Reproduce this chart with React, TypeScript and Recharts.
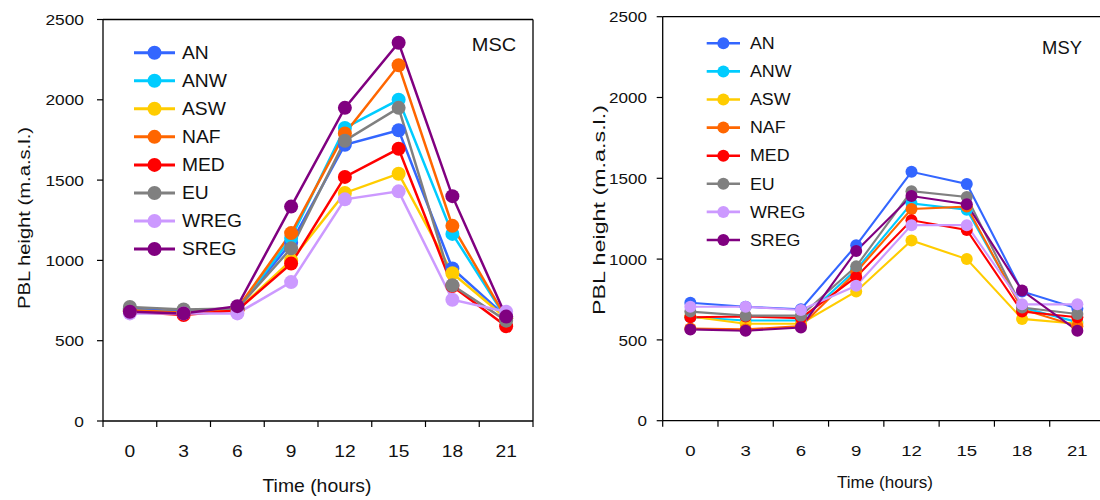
import { Legend, Line, LineChart, ReferenceLine, XAxis, YAxis } from 'recharts'

const hours = [0, 3, 6, 9, 12, 15, 18, 21]
const regions = ['AN', 'ANW', 'ASW', 'NAF', 'MED', 'EU', 'WREG', 'SREG']
const colors = ['#3366ff', '#00ccff', '#ffcc00', '#ff6600', '#ff0000', '#808080', '#cc99ff', '#800080']
const yTicks = [0, 500, 1000, 1500, 2000, 2500]

// MSC panel (m a.s.l.)
const mscAN = [700, 680, 700, 1110, 1720, 1810, 950, 650]
const mscANW = [690, 675, 695, 1140, 1825, 2000, 1165, 640]
const mscASW = [680, 670, 690, 1000, 1420, 1540, 920, 640]
const mscNAF = [690, 675, 700, 1170, 1790, 2215, 1215, 640]
const mscMED = [680, 660, 690, 980, 1520, 1695, 840, 590]
const mscEU = [710, 695, 700, 1075, 1745, 1950, 845, 625]
const mscWREG = [670, 670, 670, 865, 1380, 1430, 755, 680]
const mscSREG = [680, 670, 715, 1335, 1950, 2355, 1400, 650]

// MSY panel
const msyAN = [730, 705, 690, 1085, 1540, 1465, 800, 695]
const msyANW = [640, 620, 620, 935, 1345, 1305, 700, 610]
const msyASW = [645, 600, 600, 800, 1115, 1000, 630, 600]
const msyNAF = [570, 565, 585, 920, 1310, 1325, 690, 585]
const msyMED = [640, 645, 635, 890, 1240, 1180, 675, 640]
const msyEU = [675, 650, 650, 955, 1420, 1385, 700, 660]
const msyWREG = [705, 705, 685, 835, 1210, 1210, 720, 720]
const msySREG = [565, 557, 577, 1050, 1390, 1340, 805, 557]

const FONT = "'Liberation Sans', Arial, sans-serif"

function buildRows(series: number[][]) {
  return hours.map((hour, i) => {
    const row: Record<string, number> = { slot: i + 0.5, hour }
    regions.forEach((name, k) => {
      row[name] = series[k][i]
    })
    return row
  })
}

type STextProps = {
  x: number
  y: number
  size: number
  sx?: number
  anchor?: 'start' | 'middle' | 'end'
  rotate?: number
  length?: number
  children: string | number
}

function SText({ x, y, size, sx = 1, anchor = 'middle', rotate = 0, length, children }: STextProps) {
  return (
    <text
      transform={`translate(${x},${y}) rotate(${rotate}) scale(${sx},1)`}
      fontSize={size}
      fontFamily={FONT}
      textAnchor={anchor}
      dominantBaseline="central"
      fill="#111"
      textLength={length}
      lengthAdjust={length ? 'spacingAndGlyphs' : undefined}
    >
      {children}
    </text>
  )
}

type Frame = {
  name: string
  width: number
  plotLeft: number
  plotRight: number
  plotTop: number
  plotBottom: number
  box: boolean
  stroke: number
  dotR: number
  yLabelRight: number
  yTickSize: number
  yTickSx: number
  xLabelY: number
  xTickSize: number
  xTickSx: number
  xTitle: { x: number; y: number; size: number; length: number }
  yTitle: { x: number; y: number; size: number; length: number }
  nameLabel: { x: number; y: number; size: number; sx: number }
  legend: { top: number; step: number; x1: number; x2: number; textX: number; size: number; sx: number; r: number }
}

const leftFrame: Frame = {
  name: 'MSC',
  width: 550,
  plotLeft: 103,
  plotRight: 533,
  plotTop: 19.5,
  plotBottom: 421,
  box: true,
  stroke: 2.5,
  dotR: 7,
  yLabelRight: 84,
  yTickSize: 15.5,
  yTickSx: 1.12,
  xLabelY: 452,
  xTickSize: 16,
  xTickSx: 1.2,
  xTitle: { x: 317, y: 485, size: 18.5, length: 109 },
  yTitle: { x: 24, y: 218, size: 16.5, length: 182 },
  nameLabel: { x: 494, y: 45, size: 18.5, sx: 1.08 },
  legend: { top: 52.7, step: 28.05, x1: 134, x2: 175, textX: 182, size: 18, sx: 1.07, r: 7 },
}

const rightFrame: Frame = {
  name: 'MSY',
  width: 560,
  plotLeft: 112.7,
  plotRight: 555,
  plotTop: 16.7,
  plotBottom: 420.7,
  box: false,
  stroke: 2.1,
  dotR: 6,
  yLabelRight: 97,
  yTickSize: 15.5,
  yTickSx: 1.1,
  xLabelY: 451,
  xTickSize: 15.5,
  xTickSx: 1.2,
  xTitle: { x: 335, y: 482, size: 16.5, length: 96 },
  yTitle: { x: 49, y: 210, size: 16.5, length: 210 },
  nameLabel: { x: 512, y: 48, size: 17.5, sx: 1.05 },
  legend: { top: 43.3, step: 28.1, x1: 156.7, x2: 190, textX: 200, size: 16.5, sx: 1.08, r: 6 },
}

function Panel({ frame, series }: { frame: Frame; series: number[][] }) {
  const rows = buildRows(series)
  const band = (frame.plotRight - frame.plotLeft) / hours.length
  const edges = hours.map((_, i) => i).concat(hours.length)

  const renderXTick = (props: any) => {
    const idx = Math.round(props.payload.value)
    if (idx >= hours.length) return <g />
    return (
      <SText x={props.x + band / 2} y={frame.xLabelY} size={frame.xTickSize} sx={frame.xTickSx}>
        {hours[idx]}
      </SText>
    )
  }

  const renderYTick = (props: any) => (
    <SText x={frame.yLabelRight} y={props.y} size={frame.yTickSize} sx={frame.yTickSx} anchor="end">
      {props.payload.value}
    </SText>
  )

  const lg = frame.legend
  const renderLegend = () => (
    <svg width={frame.width} height={500} style={{ display: 'block' }}>
      {regions.map((name, k) => {
        const y = lg.top + k * lg.step
        return (
          <g key={name}>
            <line x1={lg.x1} x2={lg.x2} y1={y} y2={y} stroke={colors[k]} strokeWidth={frame.stroke + 0.5} />
            <circle cx={(lg.x1 + lg.x2) / 2} cy={y} r={lg.r} fill={colors[k]} />
            <SText x={lg.textX} y={y} size={lg.size} sx={lg.sx} anchor="start">
              {name}
            </SText>
          </g>
        )
      })}
    </svg>
  )

  return (
    <LineChart
      width={frame.width}
      height={500}
      data={rows}
      margin={{ top: frame.plotTop, right: frame.width - frame.plotRight, bottom: 0, left: 0 }}
    >
      <XAxis
        dataKey="slot"
        type="number"
        domain={[0, hours.length]}
        ticks={edges}
        interval={0}
        height={500 - frame.plotBottom}
        tickSize={6}
        tick={renderXTick}
        axisLine={{ stroke: '#000', strokeWidth: 1.3 }}
        tickLine={{ stroke: '#000', strokeWidth: 1.2 }}
        label={{
          content: () => (
            <SText x={frame.xTitle.x} y={frame.xTitle.y} size={frame.xTitle.size} length={frame.xTitle.length}>
              Time (hours)
            </SText>
          ),
        }}
      />
      <YAxis
        type="number"
        domain={[0, 2500]}
        ticks={yTicks}
        interval={0}
        width={frame.plotLeft}
        tickSize={6}
        tick={renderYTick}
        axisLine={{ stroke: '#000', strokeWidth: 1.3 }}
        tickLine={{ stroke: '#000', strokeWidth: 1.2 }}
        label={{
          content: () => (
            <SText
              x={frame.yTitle.x}
              y={frame.yTitle.y}
              size={frame.yTitle.size}
              rotate={-90}
              length={frame.yTitle.length}
            >
              PBL height (m.a.s.l.)
            </SText>
          ),
        }}
      />
      <ReferenceLine
        y={2500}
        stroke="#000"
        strokeWidth={1.3}
        ifOverflow="visible"
        label={{
          content: () => (
            <SText x={frame.nameLabel.x} y={frame.nameLabel.y} size={frame.nameLabel.size} sx={frame.nameLabel.sx}>
              {frame.name}
            </SText>
          ),
        }}
      />
      {frame.box && <ReferenceLine x={hours.length} stroke="#000" strokeWidth={1.3} ifOverflow="visible" />}
      <Legend
        layout="vertical"
        align="center"
        verticalAlign="middle"
        content={renderLegend}
        wrapperStyle={{ left: 0, top: 0, width: frame.width, height: 500, pointerEvents: 'none' }}
      />
      {regions.map((name, k) => (
        <Line
          key={name}
          dataKey={name}
          name={name}
          type="linear"
          stroke={colors[k]}
          strokeWidth={frame.stroke}
          dot={{ r: frame.dotR, fill: colors[k], stroke: colors[k], strokeWidth: 0 }}
          activeDot={false}
          isAnimationActive={false}
        />
      ))}
    </LineChart>
  )
}

export default function App() {
  return (
    <div
      style={{
        position: 'absolute',
        left: 0,
        top: 0,
        width: 1100,
        height: 500,
        overflow: 'hidden',
        background: '#fff',
      }}
    >
      <div style={{ position: 'absolute', left: 0, top: 0 }}>
        <Panel frame={leftFrame} series={[mscAN, mscANW, mscASW, mscNAF, mscMED, mscEU, mscWREG, mscSREG]} />
      </div>
      <div style={{ position: 'absolute', left: 550, top: 0 }}>
        <Panel frame={rightFrame} series={[msyAN, msyANW, msyASW, msyNAF, msyMED, msyEU, msyWREG, msySREG]} />
      </div>
    </div>
  )
}
